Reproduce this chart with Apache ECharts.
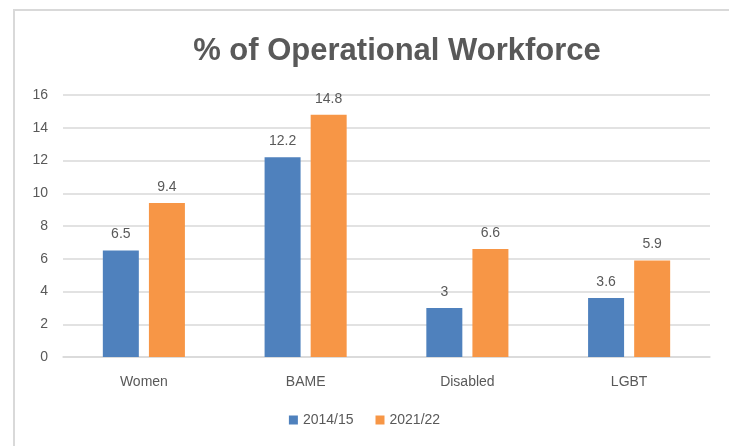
<!DOCTYPE html>
<html><head><meta charset="utf-8">
<script src="https://cdn.jsdelivr.net/npm/echarts@6/dist/echarts.min.js"></script>
<style>html,body{margin:0;padding:0;background:#fff}#c{width:729px;height:446px;position:relative}
#frame{position:absolute;left:13px;top:9px;width:740px;height:460px;border:2px solid #d9d9d9;box-sizing:border-box;pointer-events:none}</style>
</head><body><div id="c"></div><div id="frame"></div>
<script>
const categories = ['Women', 'BAME', 'Disabled', 'LGBT'];
const series2014 = [6.5, 12.2, 3, 3.6];
const series2021 = [9.4, 14.8, 6.6, 5.9];
const seriesNames = ['2014/15', '2021/22'];
const yTicks = [0, 2, 4, 6, 8, 10, 12, 14, 16];

const font = 'Liberation Sans';
const grey = '#595959';
const chart = echarts.init(document.getElementById('c'));
const lbl = {show: true, position: 'top', distance: 9, color: grey, fontSize: 14, fontFamily: font};
chart.setOption({
  animation: false,
  title: {text: '% of Operational Workforce', left: 392, textAlign: 'center', top: 31,
    textStyle: {fontFamily: font, fontSize: 31, fontWeight: 'bold', color: grey}},
  legend: {bottom: 14, left: 'center', itemWidth: 9, itemHeight: 9, itemGap: 22,
    icon: 'rect', textStyle: {fontFamily: font, fontSize: 14, color: grey}, data: seriesNames},
  grid: {left: 63, right: 19, top: 95, bottom: 89},
  xAxis: {type: 'category', data: categories,
    axisLine: {lineStyle: {color: '#d9d9d9', width: 1.5}}, axisTick: {show: false},
    axisLabel: {color: grey, fontSize: 14, fontFamily: font, margin: 18}},
  yAxis: {type: 'value', min: yTicks[0], max: yTicks[yTicks.length - 1], interval: 2,
    axisLine: {show: false}, axisTick: {show: false},
    axisLabel: {color: grey, fontSize: 14, fontFamily: font, margin: 15},
    splitLine: {lineStyle: {color: '#d9d9d9', width: 1.5}}},
  series: [
    {name: seriesNames[0], type: 'bar', data: series2014, barWidth: 36, barGap: '28%',
      itemStyle: {color: '#4F81BD'}, label: lbl},
    {name: seriesNames[1], type: 'bar', data: series2021, barWidth: 36,
      itemStyle: {color: '#F79646'}, label: lbl}
  ]
});
</script></body></html>
